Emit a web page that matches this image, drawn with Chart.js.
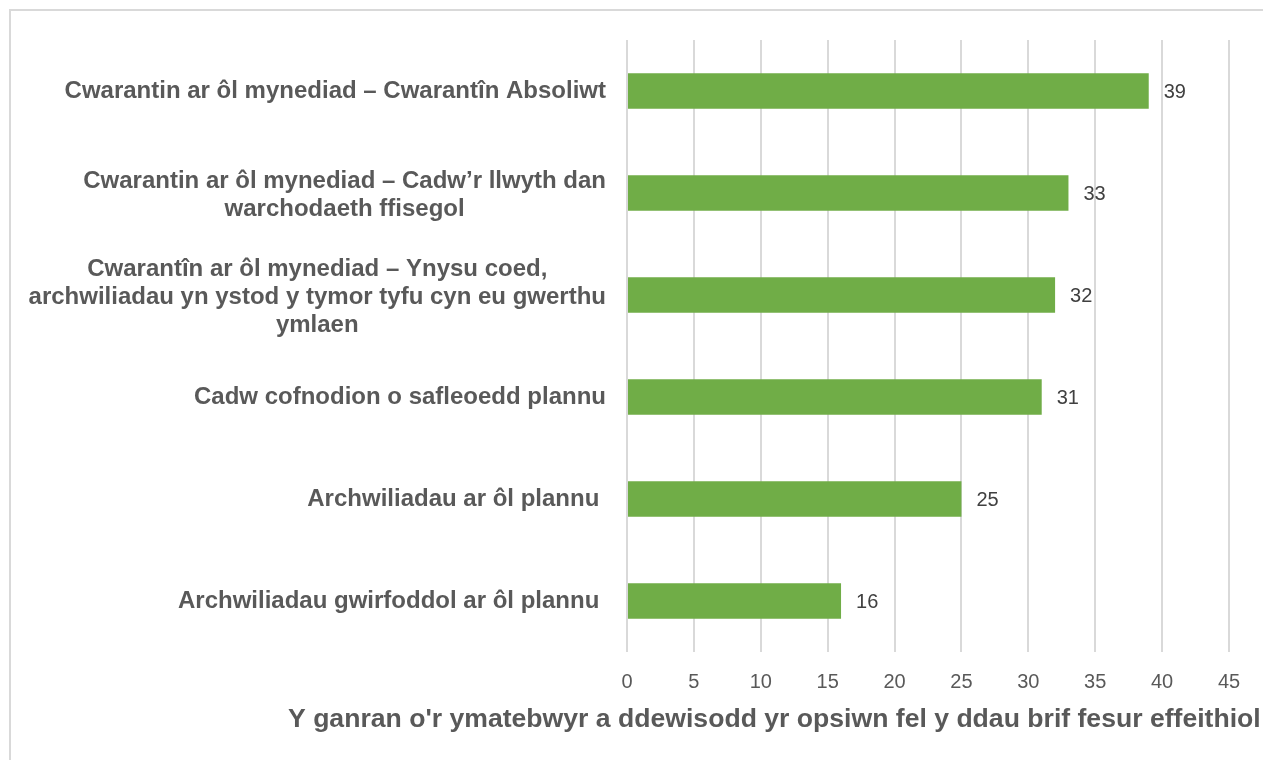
<!DOCTYPE html>
<html>
<head>
<meta charset="utf-8">
<script src="https://cdn.jsdelivr.net/npm/chart.js@4/dist/chart.umd.min.js"></script>
<style>
  html, body { margin: 0; padding: 0; background: #fff; }
  #wrap { width: 1263px; height: 760px; }
</style>
</head>
<body>
<div id="wrap"><canvas id="chart" width="1263" height="760"></canvas></div>
<script>
// ── Data ──────────────────────────────────────
const categories = [
  ['Cwarantin ar ôl mynediad – Cwarantîn Absoliwt'],
  ['Cwarantin ar ôl mynediad – Cadw’r llwyth dan', 'warchodaeth ffisegol'],
  ['Cwarantîn ar ôl mynediad – Ynysu coed,', 'archwiliadau yn ystod y tymor tyfu cyn eu gwerthu', 'ymlaen'],
  ['Cadw cofnodion o safleoedd plannu'],
  ['Archwiliadau ar ôl plannu '],
  ['Archwiliadau gwirfoddol ar ôl plannu ']
];
const values = [39, 33, 32, 31, 25, 16];
const xTicks = [0, 5, 10, 15, 20, 25, 30, 35, 40, 45];
const xTitle = "Y ganran o'r ymatebwyr a ddewisodd yr opsiwn fel y ddau brif fesur effeithiol";

// ── Styles ────────────────────────────────────
const FONT      = '"Liberation Sans", Arial, sans-serif';
const TEXT_GREY = '#595959';
const GRID_GREY = '#d9d9d9';
const BAR_GREEN = '#70ad47';

// frame, category labels, value labels, axis title
const extras = {
  id: 'extras',
  beforeDraw(chart) {
    const ctx = chart.ctx;
    ctx.save();
    ctx.strokeStyle = GRID_GREY;
    ctx.lineWidth = 2;
    ctx.beginPath();
    ctx.moveTo(10, 760); ctx.lineTo(10, 10); ctx.lineTo(1263, 10);
    ctx.stroke();
    ctx.restore();
  },
  afterDraw(chart) {
    const ctx = chart.ctx;
    const y = chart.scales.y;
    const area = chart.chartArea;
    ctx.save();

    // category labels: block right aligned, lines centred in block
    ctx.fillStyle = TEXT_GREY;
    ctx.font = 'bold 24px ' + FONT;
    ctx.textBaseline = 'middle';
    ctx.textAlign = 'center';
    const lineH = 28;
    categories.forEach((lines, i) => {
      const cy = y.getPixelForValue(i) + (lines.length > 1 ? 2 : 0);
      const w = Math.max(...lines.map(l => ctx.measureText(l).width));
      const cx = area.left - 21 - w / 2;
      lines.forEach((l, j) => {
        ctx.fillText(l, cx, cy + (j - (lines.length - 1) / 2) * lineH);
      });
    });

    // value labels
    ctx.font = '20px ' + FONT;
    ctx.fillStyle = '#404040';
    ctx.textAlign = 'left';
    const meta = chart.getDatasetMeta(0);
    meta.data.forEach((bar, i) => {
      ctx.fillText(String(values[i]), bar.x + 15, bar.y + 1);
    });

    // axis title
    ctx.font = 'bold 26.6px ' + FONT;
    ctx.fillStyle = TEXT_GREY;
    ctx.textAlign = 'left';
    ctx.fillText(xTitle, 288, 720);
    ctx.restore();
  }
};

new Chart(document.getElementById('chart'), {
  type: 'bar',
  data: {
    labels: categories,
    datasets: [{
      data: values,
      backgroundColor: BAR_GREEN,
      borderWidth: 0,
      barPercentage: 0.35,
      categoryPercentage: 1
    }]
  },
  options: {
    indexAxis: 'y',
    responsive: false,
    animation: false,
    events: [],
    layout: { padding: { left: 627, right: 34, top: 40, bottom: 0 } },
    plugins: { legend: { display: false }, tooltip: { enabled: false } },
    scales: {
      x: {
        min: 0, max: 45,
        afterBuildTicks: s => { s.ticks = xTicks.map(v => ({ value: v })); },
        afterFit: s => { s.height = 108; },
        border: { display: false },
        grid: { color: GRID_GREY, lineWidth: 2, drawTicks: false },
        ticks: { color: TEXT_GREY, font: { family: FONT, size: 20 }, padding: 18, maxRotation: 0 }
      },
      y: {
        border: { display: false },
        grid: { display: false },
        ticks: { display: false },
        afterFit: s => { s.width = 0; }
      }
    }
  },
  plugins: [extras]
});
</script>
</body>
</html>
